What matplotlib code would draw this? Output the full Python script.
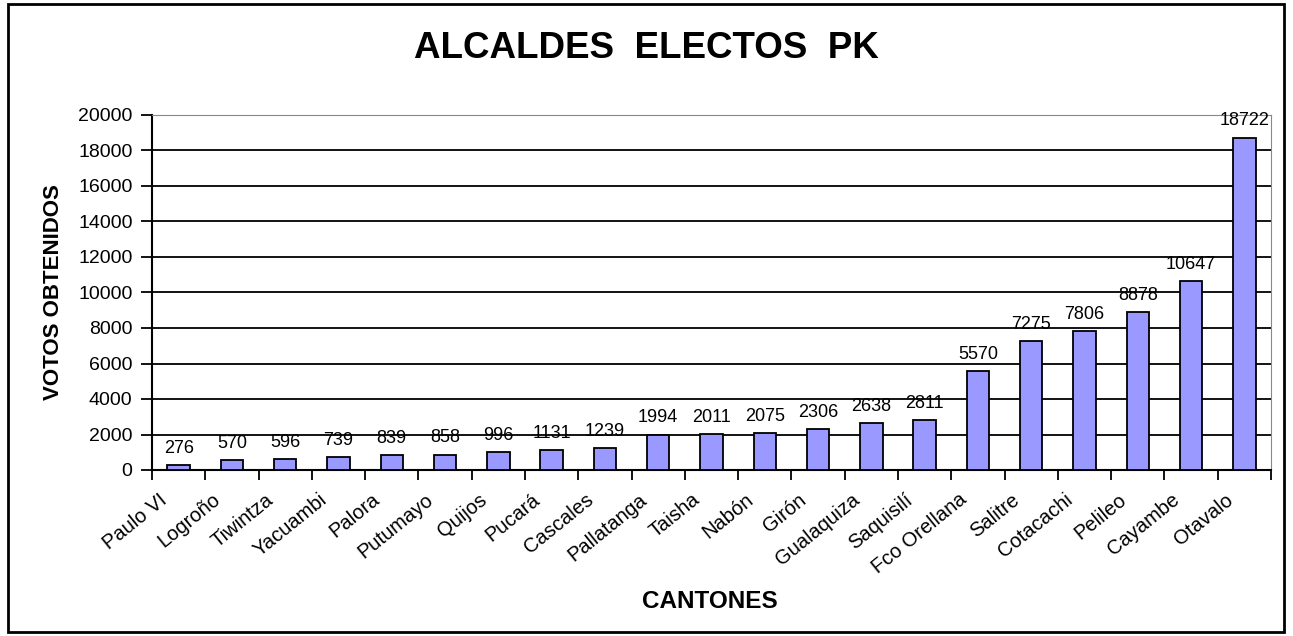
import matplotlib.pyplot as plt
from matplotlib.patches import Rectangle
from matplotlib.ticker import MultipleLocator, FixedLocator, NullLocator
from matplotlib.transforms import ScaledTranslation

cantones = ["Paulo VI", "Logroño", "Tiwintza", "Yacuambi", "Palora", "Putumayo",
            "Quijos", "Pucará", "Cascales", "Pallatanga", "Taisha", "Nabón",
            "Girón", "Gualaquiza", "Saquisilí", "Fco Orellana", "Salitre",
            "Cotacachi", "Pelileo", "Cayambe", "Otavalo"]
votos = [276, 570, 596, 739, 839, 858, 996, 1131, 1239, 1994, 2011, 2075,
         2306, 2638, 2811, 5570, 7275, 7806, 8878, 10647, 18722]

plt.rcParams['font.family'] = ['Liberation Sans', 'DejaVu Sans']

fig = plt.figure(figsize=(12.93, 6.36), dpi=100)
ax = fig.add_axes([152 / 1293, 1 - 470 / 636, (1271 - 152) / 1293, (470 - 115) / 636])

x = list(range(len(cantones)))
ax.bar(x, votos, width=0.42, color="#9999FF", edgecolor="black", linewidth=1.3, zorder=3)
for xi, v in zip(x, votos):
    ax.annotate(str(v), (xi, v), xytext=(0, 6), textcoords="offset points",
                ha="center", va="bottom", fontsize=13, zorder=4)

ax.set_xlim(-0.5, len(cantones) - 0.5)
ax.set_ylim(0, 20000)
ax.yaxis.set_major_locator(MultipleLocator(2000))
ax.yaxis.grid(True, color="black", linewidth=1.3, zorder=1)
ax.tick_params(axis="y", labelsize=14, length=8, width=1.3, direction="out", pad=6)

# category labels, rotated, ending slightly left of each category centre
ax.xaxis.set_major_locator(NullLocator())
ax.xaxis.set_minor_locator(FixedLocator([i - 0.5 for i in range(len(cantones) + 1)]))
ax.tick_params(axis="x", which="minor", length=7, width=1.3, direction="out")
lbl_tr = ax.get_xaxis_transform() + ScaledTranslation(-20 / 100, -20 / 100, fig.dpi_scale_trans)
for xi, name in zip(x, cantones):
    ax.text(xi, 0, name, transform=lbl_tr, rotation=39, ha="right", va="top",
            rotation_mode="anchor", fontsize=14.5)

for s in ["left", "bottom"]:
    ax.spines[s].set_linewidth(1.5)
ax.spines["right"].set_color("#888888")
ax.spines["top"].set_color("#888888")

ax.set_ylabel("VOTOS OBTENIDOS", fontsize=16, fontweight="bold", labelpad=10)
fig.text(710 / 1293, 1 - 602 / 636, "CANTONES", ha="center", va="center",
         fontsize=17.5, fontweight="bold")
fig.text(0.5, 1 - 49 / 636, "ALCALDES  ELECTOS  PK", ha="center", va="center",
         fontsize=26.5, fontweight="bold")

fig.patches.append(Rectangle((8 / 1293, 4 / 636), 1276 / 1293, 628 / 636,
                             transform=fig.transFigure, fill=False,
                             edgecolor="black", linewidth=2))

fig.savefig("out.png", dpi=100)
